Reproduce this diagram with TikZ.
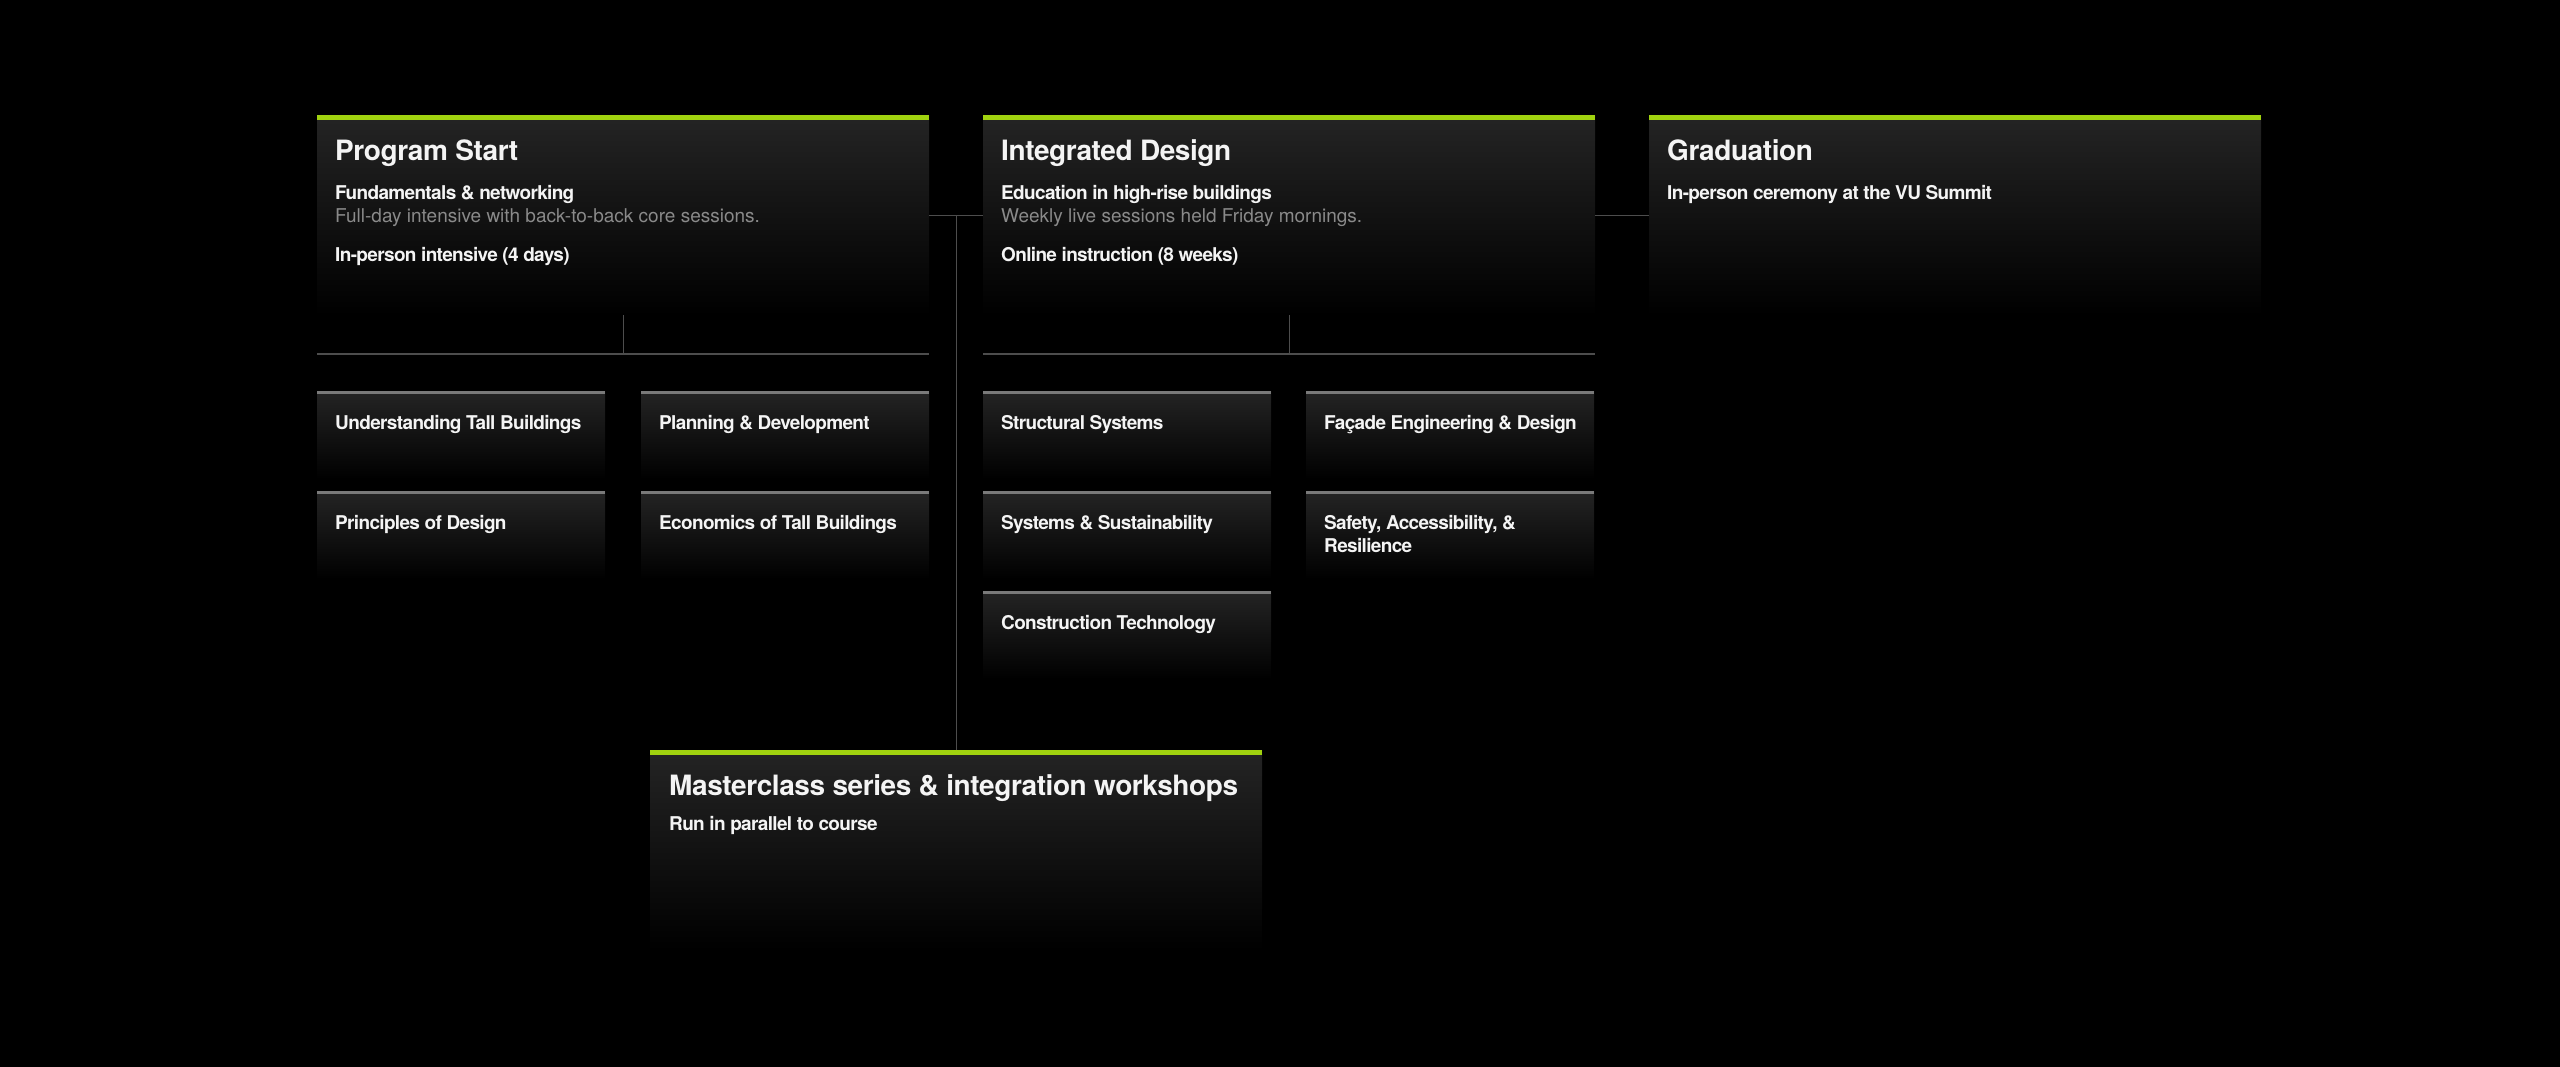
\documentclass[tikz,border=0pt]{standalone}
\usepackage{fontspec}
\setmainfont{TeX Gyre Heros}
\newfontfamily\heros[LetterSpace=-1.5]{TeX Gyre Heros}
\newfontfamily\herosl[LetterSpace=-3.5]{TeX Gyre Heros}
\newfontfamily\herosn{TeX Gyre Heros}
\usetikzlibrary{calc}
\definecolor{lime}{HTML}{A0D20F}
\definecolor{boxtop}{HTML}{242424}
\definecolor{subgray}{HTML}{8A8A8A}
\definecolor{linegray}{HTML}{4D4D4D}
\definecolor{bargray}{HTML}{7A7A7A}
\definecolor{txt}{HTML}{F4F4F4}
\tikzset{
  mainbox/.style={anchor=north west, minimum width=612pt, minimum height=200pt, inner sep=0pt, top color=boxtop, bottom color=black, draw=none},
  subbox/.style={anchor=north west, minimum width=288pt, minimum height=88pt, inner sep=0pt, top color=boxtop, bottom color=black, draw=none},
  ttl/.style={anchor=base west, inner sep=0pt, text=txt, font=\heros\bfseries\fontsize{28}{32}\selectfont},
  lbl/.style={anchor=base west, inner sep=0pt, text=txt, font=\herosl\bfseries\fontsize{19}{23}\selectfont},
  note/.style={anchor=base west, inner sep=0pt, text=subgray, font=\herosn\fontsize{19}{23}\selectfont},
  conn/.style={draw=linegray, line width=1.3pt},
  limebar/.style={fill=lime},
  graybar/.style={fill=bargray},
}
\begin{document}
\begin{tikzpicture}[x=1pt,y=-1pt]
\fill[black] (0,0) rectangle (2560,1067);
\useasboundingbox (0,0) rectangle (2560,1067);

% main boxes
\node[mainbox] (ps) at (317,115) {};
\node[mainbox] (id) at (983,115) {};
\node[mainbox] (gr) at (1649,115) {};
\node[mainbox] (mc) at (650,750) {};
\foreach \b in {ps,id,gr,mc}{
  \fill[limebar] (\b.north west) rectangle ([yshift=-5pt]\b.north east);
}

% connectors between phases
\draw[conn] (ps.east) -- (id.west);
\draw[conn] (id.east) -- (gr.west);
\coordinate (mid) at ($(ps.east)!0.5!(id.west)$);
\draw[conn] (mid) -- (mc.north);

% stubs and bars under phases
\coordinate (psl) at (317,354);
\coordinate (psr) at (929,354);
\coordinate (idl) at (983,354);
\coordinate (idr) at (1595,354);
\draw[conn] (psl) -- (psr);
\draw[conn] (idl) -- (idr);
\draw[conn] (ps.south) -- (ps.south |- psl);
\draw[conn] (id.south) -- (id.south |- idl);

% sub boxes
\node[subbox] (s1) at (317,391) {};
\node[subbox] (s2) at (641,391) {};
\node[subbox] (s3) at (317,491) {};
\node[subbox] (s4) at (641,491) {};
\node[subbox] (t1) at (983,391) {};
\node[subbox] (t2) at (1306,391) {};
\node[subbox] (t3) at (983,491) {};
\node[subbox] (t4) at (1306,491) {};
\node[subbox] (t5) at (983,591) {};
\foreach \b in {s1,s2,s3,s4,t1,t2,t3,t4,t5}{
  \fill[graybar] (\b.north west) rectangle ([yshift=-3pt]\b.north east);
}

% texts: Program Start
\node[ttl] (pst) at (335,161) {Program Start};
\node[lbl] (psa) at (335,200) {Fundamentals \& networking};
\node[note] (psb) at (335,223) {Full-day intensive with back-to-back core sessions.};
\node[lbl] (psc) at (335,262) {In-person intensive (4 days)};

% Integrated Design
\node[ttl] (idt) at (1001,161) {Integrated Design};
\node[lbl] (ida) at (1001,200) {Education in high-rise buildings};
\node[note] (idb) at (1001,223) {Weekly live sessions held Friday mornings.};
\node[lbl] (idc) at (1001,262) {Online instruction (8 weeks)};

% Graduation
\node[ttl] (grt) at (1667,161) {Graduation};
\node[lbl] (gra) at (1667,200) {In-person ceremony at the VU Summit};

% Masterclass
\node[ttl] (mct) at (669,795) {Masterclass series \& integration workshops};
\node[lbl] (mca) at (669,830) {Run in parallel to course};

% sub box labels
\node[lbl] (s1t) at (335,429) {Understanding Tall Buildings};
\node[lbl] (s2t) at (659,429) {Planning \& Development};
\node[lbl] (s3t) at (335,529) {Principles of Design};
\node[lbl] (s4t) at (659,529) {Economics of Tall Buildings};
\node[lbl] (t1t) at (1001,429) {Structural Systems};
\node[lbl] (t2t) at (1324,429) {Façade Engineering \& Design};
\node[lbl] (t3t) at (1001,529) {Systems \& Sustainability};
\node[lbl] (t4t) at (1324,529) {Safety, Accessibility, \&};
\node[lbl] (t4u) at (1324,552) {Resilience};
\node[lbl] (t5t) at (1001,629) {Construction Technology};
\end{tikzpicture}
\end{document}
